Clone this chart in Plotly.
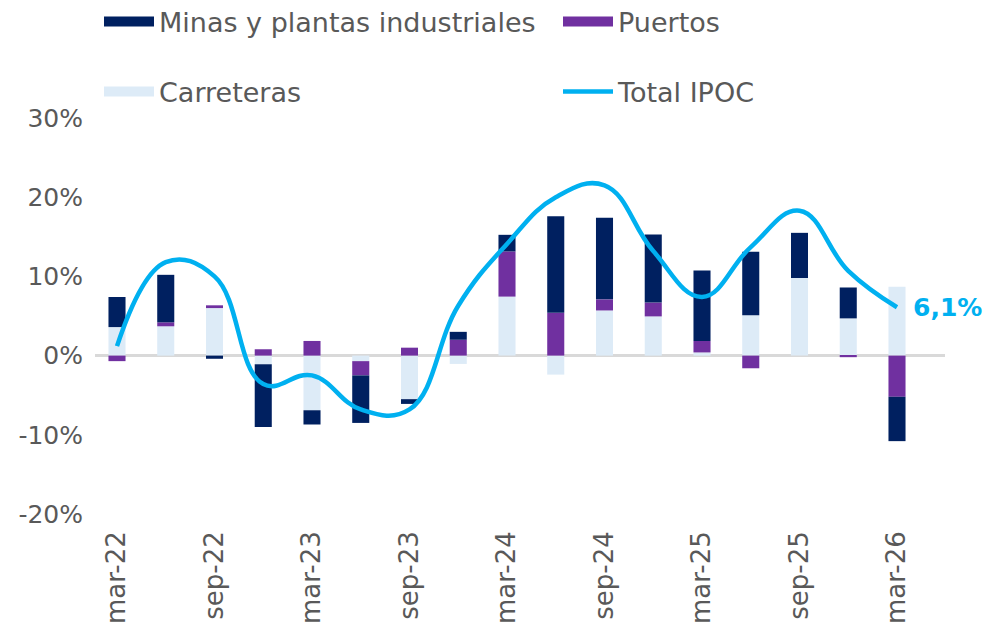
import plotly.graph_objects as go

# ---- data (contributions, % ) ----
quarters = ["mar-22", "jun-22", "sep-22", "dic-22", "mar-23", "jun-23", "sep-23", "dic-23",
            "mar-24", "jun-24", "sep-24", "dic-24", "mar-25", "jun-25", "sep-25", "dic-25", "mar-26"]
minas = [3.8, 6.0, -0.4, -7.9, -1.8, -6.0, -0.6, 1.0, 2.1, 12.2, 10.3, 8.6, 8.9, 8.0, 5.7, 3.9, -5.6]
puertos = [-0.7, 0.5, 0.35, 0.8, 1.85, -1.8, 1.0, 2.0, 5.7, 5.4, 1.4, 1.75, 1.45, -1.6, 0.0, -0.2, -5.2]
carreteras = [3.6, 3.7, 6.0, -1.1, -6.9, -0.7, -5.5, -1.05, 7.45, -2.4, 5.7, 4.95, 0.4, 5.1, 9.8, 4.7, 8.7]
total_ipoc = [1.2, 11.8, 10.0, -3.6, -2.5, -6.8, -6.8, 6.3, 14.1, 20.0, 21.5, 13.2, 7.4, 13.7, 18.3, 10.7, 6.1]
tick_labels = quarters[::2]
y_ticks = [-20, -10, 0, 10, 20, 30]
y_tick_text = [f"{v}%" for v in y_ticks]

C_MINAS = "#002060"
C_PUERTOS = "#7030A0"
C_CARR = "#DDEBF7"
C_LINE = "#00B0F0"
TXT = "#595959"
FONT = "DejaVu Sans"

fig = go.Figure()

# stacked bars (Carreteras nearest zero, then Puertos, then Minas)
for name, vals, col in [("Carreteras", carreteras, C_CARR),
                        ("Puertos", puertos, C_PUERTOS),
                        ("Minas y plantas industriales", minas, C_MINAS)]:
    fig.add_trace(go.Bar(x=quarters, y=vals, name=name, marker=dict(color=col, line=dict(width=0)),
                         showlegend=False, hovertemplate="%{x}: %{y:.1f}%<extra>" + name + "</extra>"))

fig.add_trace(go.Scatter(x=quarters, y=total_ipoc, name="Total IPOC", mode="lines",
                         line=dict(color=C_LINE, width=4.5, shape="spline", smoothing=1.2),
                         legend="legend4", hovertemplate="%{x}: %{y:.1f}%<extra>Total IPOC</extra>"))

# legend swatches (legend-only entries)
for name, col, lg in [("Minas y plantas industriales", C_MINAS, "legend"),
                      ("Puertos", C_PUERTOS, "legend2"),
                      ("Carreteras", C_CARR, "legend3")]:
    fig.add_trace(go.Scatter(x=[None], y=[None], mode="lines", name=name,
                             line=dict(color=col, width=10), legend=lg, hoverinfo="skip"))

# page geometry: the page body adds an 8 px offset, so positions are compensated
OFF = 8
W, H = 996, 625
plot_left, plot_right, plot_top, plot_bottom = 95, 945, 118, 514   # screen px
L = plot_left - OFF
R = W - (plot_right - OFF)
T = plot_top - OFF
B = H - (plot_bottom - OFF)

def cx(p):
    return (p - OFF) / W
def cy(p):
    return 1 - (p - OFF) / H

leg_common = dict(orientation="h", xanchor="left", yanchor="middle", itemwidth=50,
                  xref="container", yref="container",
                  font=dict(family=FONT, size=27, color=TXT), bgcolor="rgba(0,0,0,0)",
                  borderwidth=0)
fig.update_layout(
    legend=dict(x=cx(99), y=cy(22), **leg_common),
    legend2=dict(x=cx(558), y=cy(22), **leg_common),
    legend3=dict(x=cx(99), y=cy(92), **leg_common),
    legend4=dict(x=cx(558), y=cy(92), **leg_common),
)

last = len(quarters) - 1
fig.add_annotation(x=quarters[last], y=total_ipoc[last], xref="x", yref="y",
                   text=f"{total_ipoc[last]:.1f}".replace(".", ",") + "%",
                   showarrow=False, xanchor="left", yanchor="middle", xshift=14,
                   font=dict(family=FONT, size=25, color=C_LINE, weight="bold"))

pitch = 48.75
x0 = 117
fig.update_layout(
    width=W, height=H, autosize=False,
    margin=dict(l=L, r=R, t=T, b=B, autoexpand=False),
    paper_bgcolor="white", plot_bgcolor="white",
    barmode="relative", bargap=0.65,
    font=dict(family=FONT, size=25, color=TXT),
    xaxis=dict(type="category", categoryorder="array", categoryarray=quarters,
               range=[(plot_left - x0) / pitch, (plot_right - x0) / pitch],
               tickmode="array", tickvals=tick_labels, ticktext=tick_labels,
               tickangle=-90, showgrid=False, showline=False, zeroline=False, ticks="",
               tickfont=dict(family=FONT, size=26, color=TXT), automargin=False,
               ticklabelstandoff=11),
    yaxis=dict(range=[-20, 30], tickmode="array", tickvals=y_ticks, ticktext=y_tick_text,
               showgrid=False, showline=False, ticks="", zeroline=True,
               zerolinecolor="#D9D9D9", zerolinewidth=2.5,
               tickfont=dict(family=FONT, size=25, color=TXT), automargin=False,
               ticklabelstandoff=11),
)

fig.write_html("out.html")
